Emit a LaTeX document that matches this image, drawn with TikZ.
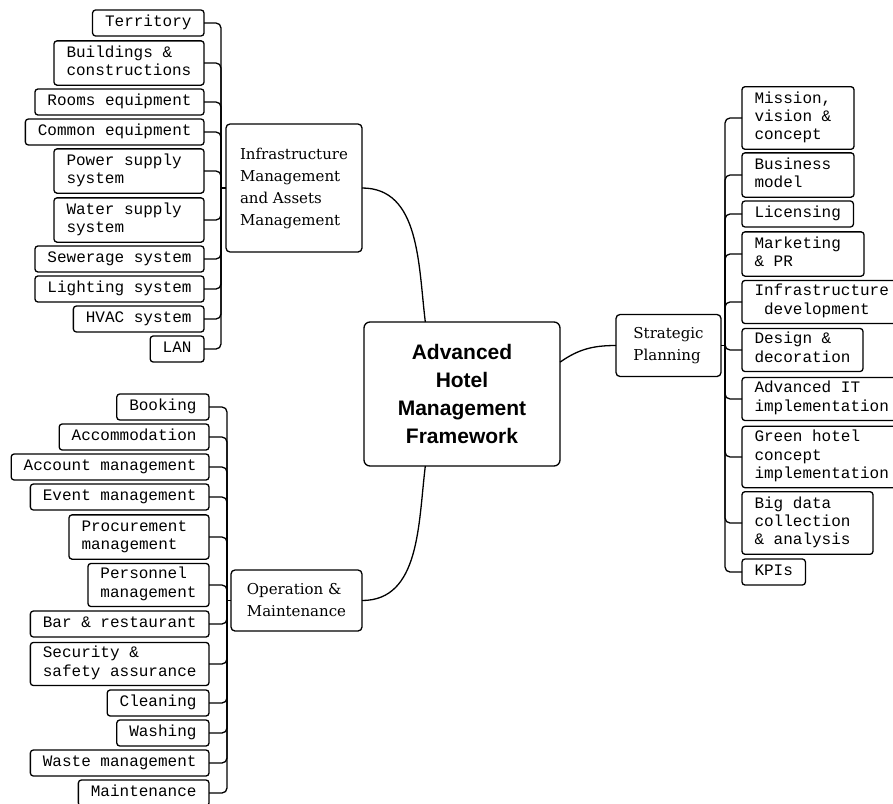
\documentclass[tikz,border=0pt]{standalone}
\usepackage{fontspec}
\setmainfont{DejaVu Serif}
\setmonofont{Liberation Mono}[WordSpace={1,0,0}]
\newfontfamily\hubfont{Liberation Sans}

\begin{document}
\begin{tikzpicture}[
  x=1pt, y=-1pt,
  every node/.style={outer sep=0pt},
  hubbox/.style={draw, line width=1.3pt, rounded corners=6pt, align=center,
    minimum width=196pt, minimum height=144pt,
    font=\hubfont\bfseries\fontsize{21}{28}\selectfont},
  midbox/.style={draw, line width=1.3pt, rounded corners=4pt, align=left, inner sep=0pt,
    font=\fontsize{15}{22}\selectfont},
  leaf/.style={draw, line width=1.3pt, rounded corners=3pt, align=flush left,
    inner xsep=12.5pt, inner ysep=3.85pt,
    font=\ttfamily\fontsize{16}{18.3}\selectfont,
    execute at begin node=\strut, execute at end node=\strut},
  link/.style={line width=1.3pt},
  branch/.style={line width=1.3pt, rounded corners=5pt}
]
\useasboundingbox (0,0) rectangle (893,803);

% Right edges of the two left columns, left edge of the right column.
\def\infx{204}
\def\opx{209}
\def\stx{742}

\node[hubbox] (hub) at (462,394) {Advanced\\Hotel\\Management\\Framework};

\node[midbox, minimum width=136pt, minimum height=128pt] (infra) at (294,188)
  {Infrastructure\\Management\\and Assets\\Management};
\node[midbox, minimum width=131pt, minimum height=61pt] (oper) at (296.5,600.5)
  {Operation \&\\Maintenance};
\node[midbox, minimum width=105pt, minimum height=62pt] (strat) at (668.5,345.5)
  {Strategic\\Planning};

% Infrastructure and assets
\node[leaf, anchor=east] (terr)   at (\infx,23)  {Territory};
\node[leaf, anchor=east, text width=125pt] (build) at (\infx,63) {Buildings \&\\constructions};
\node[leaf, anchor=east] (rooms)  at (\infx,102) {Rooms equipment};
\node[leaf, anchor=east] (common) at (\infx,132) {Common equipment};
\node[leaf, anchor=east, text width=125pt] (power) at (\infx,171) {Power supply\\system};
\node[leaf, anchor=east, text width=125pt] (water) at (\infx,220) {Water supply\\system};
\node[leaf, anchor=east] (sewer)  at (\infx,259) {Sewerage system};
\node[leaf, anchor=east] (light)  at (\infx,289) {Lighting system};
\node[leaf, anchor=east] (hvac)   at (\infx,319) {HVAC system};
\node[leaf, anchor=east] (lan)    at (\infx,349) {LAN};

% Operation and maintenance
\node[leaf, anchor=east] (book)    at (\opx,407) {Booking};
\node[leaf, anchor=east] (accom)   at (\opx,437) {Accommodation};
\node[leaf, anchor=east] (account) at (\opx,467) {Account management};
\node[leaf, anchor=east] (event)   at (\opx,497) {Event management};
\node[leaf, anchor=east, text width=115pt] (procure) at (\opx,537) {Procurement\\management};
\node[leaf, anchor=east] (staff)   at (\opx,585) {Personnel\\management};
\node[leaf, anchor=east] (bar)     at (\opx,624) {Bar \& restaurant};
\node[leaf, anchor=east] (safety)  at (\opx,664) {Security \&\\safety assurance};
\node[leaf, anchor=east] (clean)   at (\opx,703) {Cleaning};
\node[leaf, anchor=east] (wash)    at (\opx,733) {Washing};
\node[leaf, anchor=east] (waste)   at (\opx,763) {Waste management};
\node[leaf, anchor=east] (maint)   at (\opx,793) {Maintenance};

% Strategic planning
\node[leaf, anchor=west, text width=87pt]  (mission)  at (\stx,118) {Mission,\\vision \&\\concept};
\node[leaf, anchor=west, text width=87pt]  (business) at (\stx,175) {Business\\model};
\node[leaf, anchor=west] (licence)  at (\stx,214) {Licensing};
\node[leaf, anchor=west, text width=97pt]  (market)   at (\stx,254) {Marketing\\\& PR};
\node[leaf, anchor=west] (infradev) at (\stx,302) {Infrastructure\\\ development};
\node[leaf, anchor=west] (design)   at (\stx,350) {Design \&\\decoration};
\node[leaf, anchor=west] (itimpl)   at (\stx,399) {Advanced IT\\implementation};
\node[leaf, anchor=west] (green)    at (\stx,457) {Green hotel\\concept\\implementation};
\node[leaf, anchor=west, text width=106pt] (bigdata) at (\stx,523) {Big data\\collection\\\& analysis};
\node[leaf, anchor=west] (kpi)      at (\stx,572) {KPIs};

% Hub to the three branches
\draw[link] (hub.117) to[out=97, in=0] (infra.east);
\draw[link] (hub.-117) to[out=-97, in=0] (oper.east);
\draw[link] (hub.18) to[out=35, in=180] (strat.west);

% Bracket buses
\coordinate (infrabus) at ([xshift=-5pt]infra.west);
\coordinate (opbus)    at ([xshift=-4pt]oper.west);
\coordinate (stratbus) at ([xshift=4pt]strat.east);

\draw[link] (infra.west) -- (infrabus);
\draw[link] (oper.west) -- (opbus);
\draw[link] (strat.east) -- (stratbus);

\foreach \n in {terr,build,rooms,common,power,water,sewer,light,hvac,lan}
  \draw[branch] (\n.east) -| (infrabus);
\foreach \n in {book,accom,account,event,procure,staff,bar,safety,clean,wash,waste,maint}
  \draw[branch] (\n.east) -| (opbus);
\foreach \n in {mission,business,licence,market,infradev,design,itimpl,green,bigdata,kpi}
  \draw[branch] (\n.west) -| (stratbus);

\end{tikzpicture}
\end{document}
